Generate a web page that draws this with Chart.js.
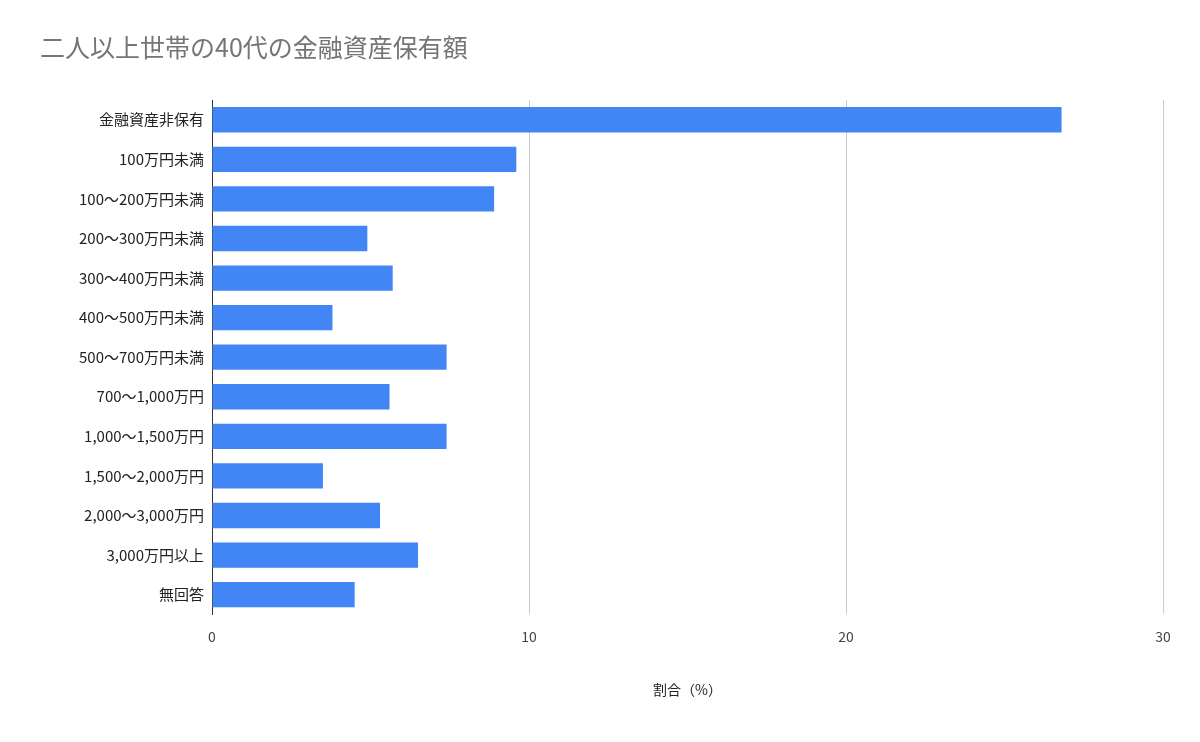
<!DOCTYPE html>
<html>
<head>
<meta charset="utf-8">
<script src="https://cdn.jsdelivr.net/npm/chart.js@4"></script>
<style>
  body { margin: 0; background: #fff; }
  #wrap { width: 1200px; height: 742px; position: relative; }
</style>
</head>
<body>
<div id="wrap"><canvas id="myChart"></canvas></div>
<script>
// categories and shares (%)
const categories = [
    '金融資産非保有', '100万円未満', '100～200万円未満', '200～300万円未満',
    '300～400万円未満', '400～500万円未満', '500～700万円未満', '700～1,000万円',
    '1,000～1,500万円', '1,500～2,000万円', '2,000～3,000万円', '3,000万円以上', '無回答'
];
const shares = [26.8, 9.6, 8.9, 4.9, 5.7, 3.8, 7.4, 5.6, 7.4, 3.5, 5.3, 6.5, 4.5];
const xTicks = [0, 10, 20, 30];

const font = "'Noto Sans CJK JP', Roboto, sans-serif";

new Chart(document.getElementById('myChart'), {
    type: 'bar',
    data: {
        labels: categories,
        datasets: [{
            data: shares,
            backgroundColor: '#4285f4',
            barPercentage: 0.64,
            categoryPercentage: 1.0
        }]
    },
    options: {
        indexAxis: 'y',
        responsive: true,
        maintainAspectRatio: false,
        animation: false,
        layout: { padding: { top: 20, right: 37, bottom: 40, left: 40 } },
        plugins: {
            legend: { display: false },
            title: {
                display: true,
                text: '二人以上世帯の40代の金融資産保有額',
                align: 'start',
                color: '#757575',
                font: { family: font, size: 25, weight: 'normal' },
                padding: { top: 12, bottom: 38 }
            }
        },
        scales: {
            x: {
                min: 0, max: 30,
                afterBuildTicks: axis => { axis.ticks = xTicks.map(v => ({ value: v })); },
                grid: { color: '#cccccc', drawTicks: false },
                border: { display: false },
                ticks: { color: '#444', font: { family: font, size: 14 }, padding: 14 },
                title: {
                    display: true, text: '割合（%）', color: '#222',
                    font: { family: font, size: 14 }, padding: { top: 22 }
                }
            },
            y: {
                afterFit: axis => { axis.width = 172; },
                grid: { display: false, drawTicks: false },
                border: { display: true, color: '#333', width: 1 },
                ticks: { color: '#222', font: { family: font, size: 15 }, padding: 8 }
            }
        }
    }
});
</script>
</body>
</html>
